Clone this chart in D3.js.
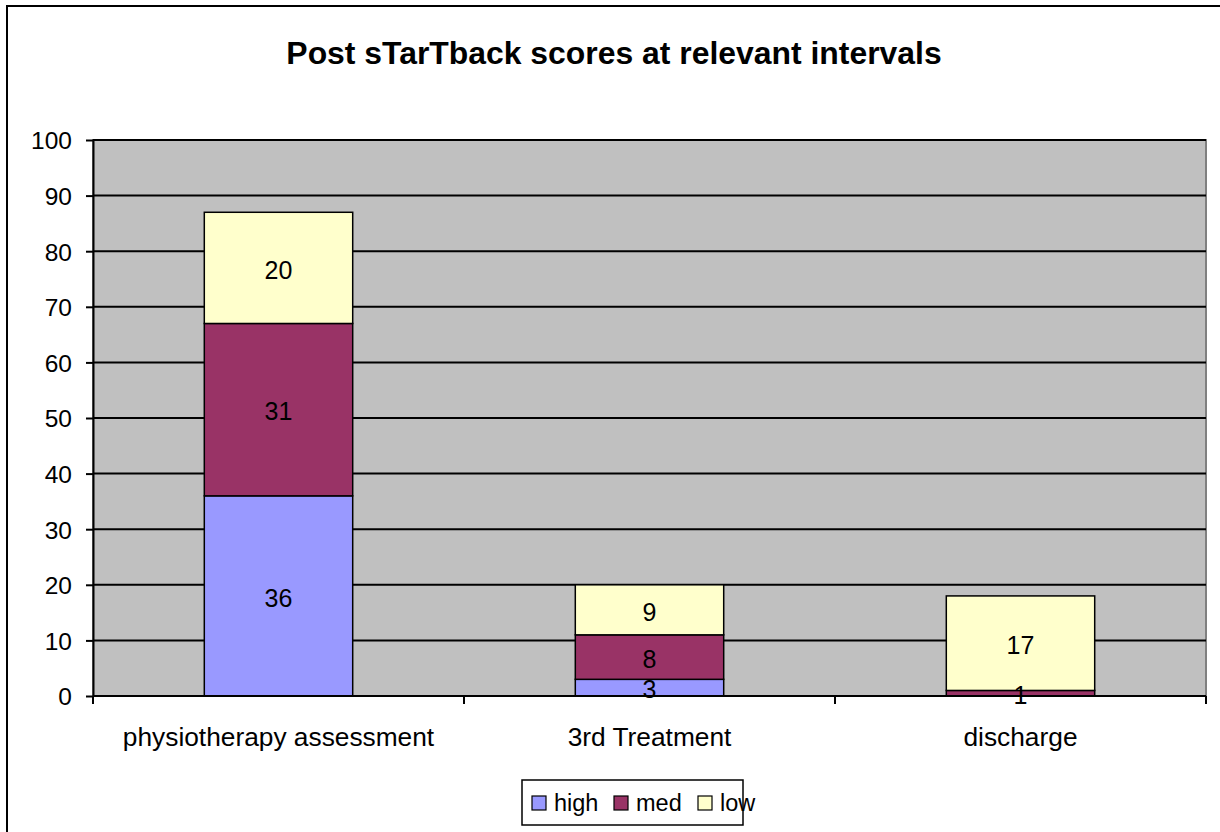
<!DOCTYPE html>
<html><head><meta charset="utf-8">
<script src="https://cdn.jsdelivr.net/npm/d3@7"></script>
<style>body{margin:0;background:#fff}svg{display:block;font-family:Arial,"Liberation Sans",sans-serif}</style>
</head><body>
<svg id="c" width="1220" height="832"></svg>
<script>
const title = "Post sTarTback scores at relevant intervals";
const categories = ["physiotherapy assessment", "3rd Treatment", "discharge"];
const seriesNames = ["high", "med", "low"];
const high = [36, 3, 0];
const med = [31, 8, 1];
const low = [20, 9, 17];
const colors = ["#9999FF", "#993366", "#FFFFCC"];
const yTicks = [0,10,20,30,40,50,60,70,80,90,100];

const FONT = "Arial,'Liberation Sans',sans-serif";
const svg = d3.select("#c");
// outer chart border
svg.append("rect").attr("x",7).attr("y",6).attr("width",1230).attr("height",840)
  .attr("fill","#fff").attr("stroke","#000").attr("stroke-width",2);

svg.append("text").attr("x",614).attr("y",64).attr("text-anchor","middle")
  .attr("font-size",31.9).attr("font-weight","bold").text(title);

const L=93, R=1206, T=140, B=696;
const x = d3.scaleBand().domain(categories).range([L,R]).paddingInner(0.6).paddingOuter(0.3);
const y = d3.scaleLinear().domain([0,100]).range([B,T]);

svg.append("rect").attr("x",L).attr("y",T).attr("width",R-L).attr("height",B-T)
  .attr("fill","#C0C0C0").attr("stroke","#808080").attr("stroke-width",2);

// gridlines
svg.append("g").selectAll("line").data(yTicks.filter(d=>d>0)).join("line")
  .attr("x1",L).attr("x2",R).attr("y1",d=>y(d)).attr("y2",d=>y(d))
  .attr("stroke","#000").attr("stroke-width",2);

const table = categories.map((c,i)=>({cat:c, high:high[i], med:med[i], low:low[i]}));
const stack = d3.stack().keys(seriesNames)(table);

const g = svg.append("g");
stack.forEach((s,si)=>{
  g.selectAll(null).data(s.filter(d=>d[1]-d[0]>0)).join("rect")
    .attr("x",d=>x(d.data.cat)).attr("width",x.bandwidth())
    .attr("y",d=>y(d[1])).attr("height",d=>y(d[0])-y(d[1]))
    .attr("fill",colors[si]).attr("stroke","#000").attr("stroke-width",1.5);
});
stack.forEach((s,si)=>{
  g.selectAll(null).data(s.filter(d=>d[1]-d[0]>0)).join("text")
    .attr("x",d=>x(d.data.cat)+x.bandwidth()/2)
    .attr("y",d=>(y(d[0])+y(d[1]))/2+2)
    .attr("dy","0.35em")
    .attr("text-anchor","middle").attr("font-size",25).attr("fill","#000")
    .text(d=>d[1]-d[0]);
});

// y axis
const ya = svg.append("g").attr("transform",`translate(${L},0)`)
  .call(d3.axisLeft(y).tickValues(yTicks).tickSize(7).tickPadding(14).tickSizeOuter(0));
ya.select(".domain").attr("stroke","#000").attr("stroke-width",2);
ya.selectAll("line").attr("stroke","#000").attr("stroke-width",2);
ya.selectAll("text").attr("font-size",24.5).attr("font-family",FONT).attr("fill","#000").attr("dy","0.36em");

// x axis
const xa = svg.append("g").attr("transform",`translate(0,${B})`)
  .call(d3.axisBottom(x).tickSize(0).tickPadding(31));
xa.select(".domain").attr("d",`M${L},0H${R}`).attr("stroke","#000").attr("stroke-width",2);
xa.selectAll("text").attr("font-size",26.3).attr("font-family",FONT).attr("fill","#000");
const step = (R-L)/categories.length;
svg.append("g").selectAll("line").data(d3.range(categories.length+1)).join("line")
  .attr("x1",d=>L+d*step).attr("x2",d=>L+d*step).attr("y1",B).attr("y2",B+8)
  .attr("stroke","#000").attr("stroke-width",2);

// legend
const lg = svg.append("g");
lg.append("rect").attr("x",522).attr("y",780).attr("width",221).attr("height",45)
  .attr("fill","#fff").attr("stroke","#000").attr("stroke-width",1.5);
const lx = [532, 614, 698];
seriesNames.forEach((n,i)=>{
  lg.append("rect").attr("x",lx[i]).attr("y",796).attr("width",14).attr("height",14)
    .attr("fill",colors[i]).attr("stroke","#000").attr("stroke-width",1.2);
  lg.append("text").attr("x",lx[i]+22).attr("y",811).attr("font-size",23.5).text(n);
});
</script>
</body></html>
